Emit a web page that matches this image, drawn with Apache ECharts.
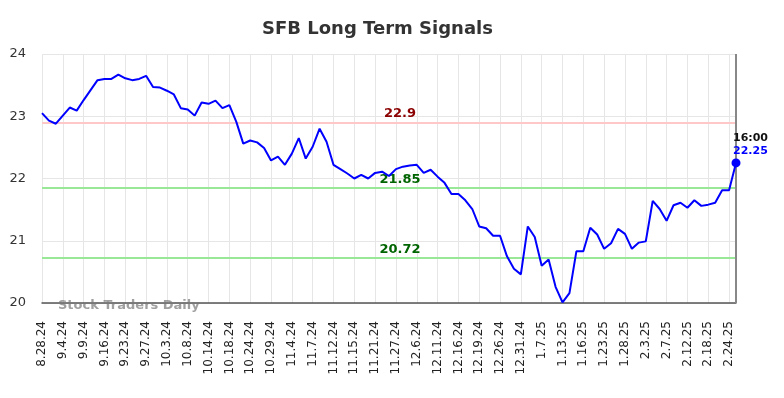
<!DOCTYPE html>
<html>
<head>
<meta charset="utf-8">
<script src="https://cdn.jsdelivr.net/npm/echarts@6/dist/echarts.min.js"></script>
<style>html,body{margin:0;padding:0;background:#fff}#c{width:784px;height:398px}</style>
</head>
<body>
<div id="c"></div>
<script>
var categories = ["8.28.24","8.29.24","8.30.24","9.4.24","9.5.24","9.6.24","9.9.24","9.10.24","9.12.24","9.16.24",
"9.17.24","9.19.24","9.23.24","9.24.24","9.25.24","9.27.24","9.30.24","10.1.24","10.3.24","10.4.24",
"10.7.24","10.8.24","10.9.24","10.11.24","10.14.24","10.15.24","10.17.24","10.18.24","10.21.24","10.23.24",
"10.24.24","10.25.24","10.28.24","10.29.24","10.30.24","11.1.24","11.4.24","11.5.24","11.6.24","11.7.24",
"11.8.24","11.11.24","11.12.24","11.13.24","11.14.24","11.15.24","11.18.24","11.20.24","11.21.24","11.22.24",
"11.26.24","11.27.24","12.2.24","12.4.24","12.6.24","12.9.24","12.10.24","12.11.24","12.12.24","12.13.24",
"12.16.24","12.17.24","12.18.24","12.19.24","12.20.24","12.24.24","12.26.24","12.27.24","12.30.24","12.31.24",
"1.2.25","1.6.25","1.7.25","1.8.25","1.10.25","1.13.25","1.14.25","1.15.25","1.16.25","1.17.25",
"1.21.25","1.23.25","1.24.25","1.27.25","1.28.25","1.29.25","1.31.25","2.3.25","2.4.25","2.6.25",
"2.7.25","2.10.25","2.11.25","2.12.25","2.13.25","2.14.25","2.18.25","2.19.25","2.21.25","2.24.25",
"2.25.25"];
var prices = [23.05,22.93,22.88,23.01,23.14,23.09,23.26,23.42,23.58,23.60,
23.60,23.67,23.61,23.58,23.60,23.65,23.47,23.46,23.41,23.35,
23.13,23.11,23.01,23.22,23.20,23.25,23.13,23.18,22.91,22.56,
22.61,22.58,22.49,22.29,22.35,22.22,22.40,22.65,22.32,22.51,
22.80,22.59,22.22,22.15,22.08,22.00,22.06,22.00,22.09,22.11,
22.04,22.15,22.19,22.21,22.22,22.09,22.14,22.03,21.93,21.75,
21.75,21.65,21.51,21.23,21.20,21.08,21.08,20.75,20.55,20.46,
21.23,21.06,20.60,20.70,20.26,20.01,20.16,20.83,20.83,21.21,
21.10,20.87,20.96,21.19,21.11,20.87,20.97,20.99,21.64,21.51,
21.32,21.57,21.61,21.53,21.65,21.56,21.58,21.61,21.81,21.81,
22.25];
var resistance = 22.9;
var supports = [21.85, 20.72];
var lastTime = "16:00";
var yTicks = [20, 21, 22, 23, 24];

var FONT = "DejaVu Sans";
var lastIdx = prices.length - 1;
var lastVal = prices[lastIdx];

var chart = echarts.init(document.getElementById('c'), null, { renderer: 'canvas' });
chart.setOption({
  animation: false,
  backgroundColor: '#fff',
  title: [
    { text: 'SFB Long Term Signals', left: 257, top: 15,
      textStyle: { fontFamily: FONT, fontSize: 18, fontWeight: 'bold', color: '#333' } },
    { text: 'Stock Traders Daily', left: 53, top: 294,
      textStyle: { fontFamily: FONT, fontSize: 13, fontWeight: 'bold', color: 'rgba(120,120,120,0.7)' } }
  ],
  grid: { left: 42, right: 48, top: 54, bottom: 95, containLabel: false },
  xAxis: {
    type: 'category',
    data: categories,
    boundaryGap: false,
    axisLine: { lineStyle: { color: '#555', width: 1.5 } },
    axisTick: { show: false },
    axisLabel: { interval: 2, rotate: 90, margin: 18, fontFamily: FONT, fontSize: 12, color: '#222' },
    splitLine: { show: true, interval: 2, lineStyle: { color: '#e6e6e6', width: 1 } }
  },
  yAxis: {
    type: 'value',
    min: yTicks[0], max: yTicks[yTicks.length - 1], interval: 1,
    axisLine: { show: false },
    axisTick: { show: false },
    axisLabel: { margin: 16, fontFamily: FONT, fontSize: 13, color: '#333' },
    splitLine: { lineStyle: { color: '#e6e6e6', width: 1 } }
  },
  series: [{
    type: 'line',
    data: prices,
    showSymbol: false,
    lineStyle: { color: '#0000ff', width: 2 },
    itemStyle: { color: '#0000ff' },
    z: 5,
    markPoint: {
      silent: true,
      animation: false,
      data: [{
        coord: [lastIdx, lastVal],
        symbol: 'circle',
        symbolSize: 9,
        itemStyle: { color: '#0000ff' },
        label: {
          show: true,
          position: 'top',
          align: 'left',
          distance: 1,
          offset: [-3, 0],
          formatter: '{t|' + lastTime + '}\n{v|' + lastVal.toFixed(2) + '}',
          rich: {
            t: { fontFamily: FONT, fontSize: 11, fontWeight: 'bold', color: '#111', lineHeight: 13 },
            v: { fontFamily: FONT, fontSize: 11, fontWeight: 'bold', color: '#0000ff', lineHeight: 13 }
          }
        }
      }]
    },
    markLine: {
      silent: true,
      symbol: ['none', 'none'],
      animation: false,
      data: [
        { yAxis: resistance, lineStyle: { color: '#ffc8c8', width: 2, type: 'solid' },
          label: { show: true, position: 'middle', distance: 2, padding: [0, 0, 0, 22], formatter: String(resistance),
            fontFamily: FONT, fontSize: 13, fontWeight: 'bold', color: '#8b0000' } },
        { yAxis: supports[0], lineStyle: { color: '#98e898', width: 2, type: 'solid' },
          label: { show: true, position: 'middle', distance: 2, padding: [0, 0, 0, 22], formatter: String(supports[0]),
            fontFamily: FONT, fontSize: 13, fontWeight: 'bold', color: '#006400' } },
        { yAxis: supports[1], lineStyle: { color: '#98e898', width: 2, type: 'solid' },
          label: { show: true, position: 'middle', distance: 2, padding: [0, 0, 0, 22], formatter: String(supports[1]),
            fontFamily: FONT, fontSize: 13, fontWeight: 'bold', color: '#006400' } },
        { xAxis: categories[lastIdx], lineStyle: { color: '#888', width: 2, type: 'solid' }, label: { show: false } }
      ]
    }
  }]
});
</script>
</body>
</html>
